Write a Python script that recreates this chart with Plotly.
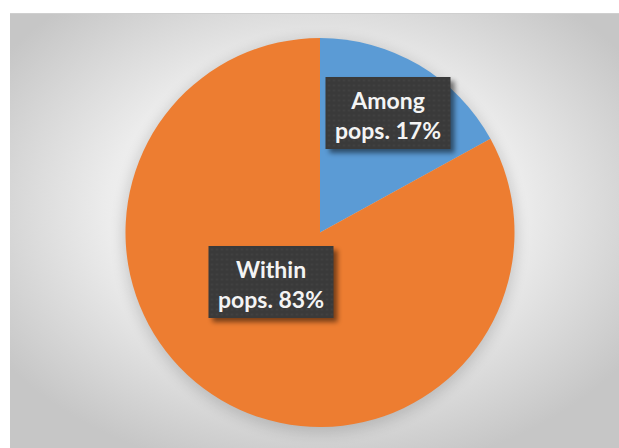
import base64
import plotly.graph_objects as go

# AMOVA partition of molecular variance
labels = ["Among pops.", "Within pops."]
values = [17, 83]
colors = ["#5B9BD5", "#ED7D31"]

W, H = 619, 448


def px_x(p):
    return p / W


def px_y(p):
    return 1 - p / H


def svg_uri(svg):
    return "data:image/svg+xml;base64," + base64.b64encode(svg.encode()).decode()


# radial grey backdrop of the chart area
bg_svg = (
    "<svg xmlns='http://www.w3.org/2000/svg' width='609' height='435'>"
    "<defs><radialGradient id='g' cx='50%' cy='45%' r='62%'>"
    "<stop offset='0' stop-color='#ffffff'/>"
    "<stop offset='0.55' stop-color='#ececec'/>"
    "<stop offset='1' stop-color='#c6c6c6'/>"
    "</radialGradient>"
    "<filter id='s' x='-20%' y='-20%' width='140%' height='140%'>"
    "<feGaussianBlur stdDeviation='7'/></filter></defs>"
    "<rect width='609' height='435' fill='url(#g)'/>"
    "<circle cx='310' cy='223' r='197' fill='#000' opacity='0.15' filter='url(#s)'/>"
    "<line x1='0' y1='0.5' x2='609' y2='0.5' stroke='#cfcfcf' stroke-width='1'/>"
    "</svg>"
)

# dark textured label box with a soft drop shadow
box_svg = (
    "<svg xmlns='http://www.w3.org/2000/svg' width='141' height='88'>"
    "<defs><pattern id='d' width='5' height='5' patternUnits='userSpaceOnUse'>"
    "<rect width='5' height='5' fill='#3a3a3a'/>"
    "<circle cx='2.5' cy='2.5' r='0.9' fill='#444444'/></pattern>"
    "<filter id='b' x='-20%' y='-20%' width='140%' height='140%'>"
    "<feGaussianBlur stdDeviation='2.5'/></filter></defs>"
    "<rect x='8' y='8' width='125' height='72' fill='#000' opacity='0.5' filter='url(#b)'/>"
    "<rect x='4' y='4' width='125' height='72' fill='url(#d)'/>"
    "</svg>"
)

fig = go.Figure(
    go.Pie(
        labels=labels,
        values=values,
        marker=dict(colors=colors, line=dict(width=0)),
        sort=False,
        direction="clockwise",
        rotation=0,
        textinfo="none",
        hoverinfo="label+percent",
        domain=dict(x=[px_x(125), px_x(515)], y=[px_y(427), px_y(38)]),
        showlegend=False,
    )
)

images = [
    dict(
        source=svg_uri(bg_svg), xref="paper", yref="paper",
        x=px_x(10), y=px_y(13), sizex=609 / W, sizey=435 / H,
        xanchor="left", yanchor="top", sizing="stretch", layer="below",
    )
]

# label centres in pixels
label_pos = [(388, 113), (271, 282)]
annotations = []
for (cx, cy), name, val in zip(label_pos, labels, values):
    word, rest = name.split(" ", 1)
    images.append(
        dict(
            source=svg_uri(box_svg), xref="paper", yref="paper",
            x=px_x(cx - 62.5 - 4), y=px_y(cy - 36 - 4),
            sizex=141 / W, sizey=88 / H,
            xanchor="left", yanchor="top", sizing="stretch", layer="above",
        )
    )
    annotations.append(
        dict(
            text=f"<b>{word}<br>{rest} {val}%</b>",
            x=px_x(cx), y=px_y(cy + 2), xref="paper", yref="paper",
            xanchor="center", yanchor="middle",
            showarrow=False, align="center",
            font=dict(family="Lato", size=23, color="#f4f4f4"),
        )
    )

fig.update_layout(
    width=W, height=H,
    margin=dict(l=0, r=0, t=0, b=0),
    paper_bgcolor="#ffffff",
    images=images,
    annotations=annotations,
)

fig.write_html("out.html")
